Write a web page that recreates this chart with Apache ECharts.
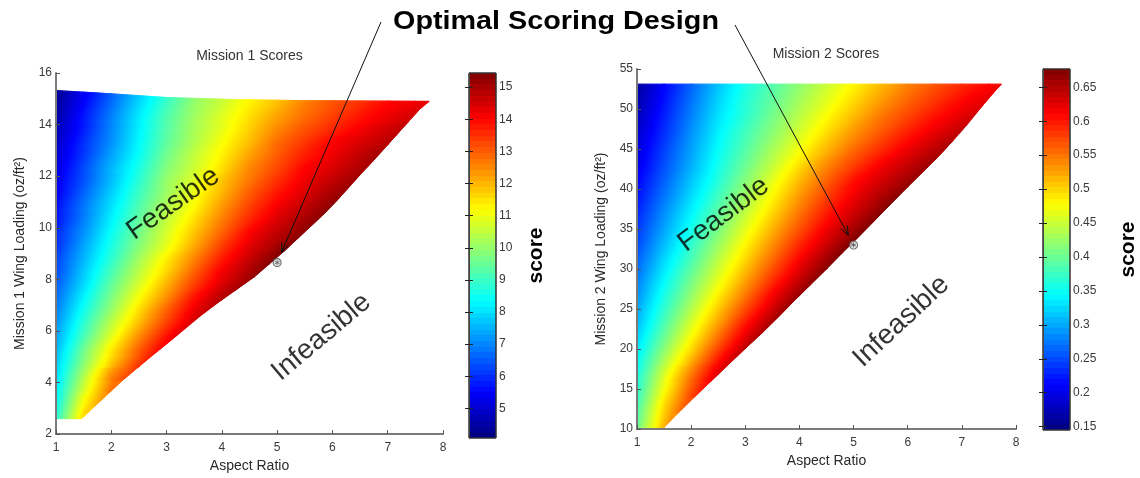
<!DOCTYPE html>
<html>
<head>
<meta charset="utf-8">
<script src="https://cdn.jsdelivr.net/npm/echarts@6/dist/echarts.min.js"></script>
<style>
  html, body { margin: 0; padding: 0; background: #fff; }
  #chart { width: 1140px; height: 478px; }
</style>
</head>
<body>
<div id="chart"></div>
<script>
// ---------- Mission 1 ----------
// Wing-loading bands (oz/ft^2): lower edge of each horizontal band of the feasible region.
const m1Bands = [2.6, 3.1, 3.6, 4.1, 4.6, 5.1, 5.6, 6.1, 6.6, 7.1, 7.6, 8.1, 8.6,
                 9.1, 9.6, 10.1, 10.6, 11.1, 11.6, 12.1, 12.6, 13.1, 13.6, 14.1, 14.6];
// Largest feasible aspect ratio at each band edge (last entry: the top corner).
const m1EdgeAR = [1.46, 1.71, 1.96, 2.21, 2.49, 2.77, 3.06, 3.34, 3.62, 3.93, 4.26, 4.59, 4.86,
                  5.13, 5.38, 5.63, 5.88, 6.10, 6.31, 6.52, 6.74, 6.95, 7.16, 7.37, 7.58, 7.75];
// Upper limit of the design space: [aspect ratio, wing loading].
const m1TopEdge = [[1, 15.32], [1.8, 15.22], [3, 15.05], [4.2, 14.97], [5.4, 14.93], [7.75, 14.9]];
// Score in each band at aspect ratio 1, 1.5, 2, 2.5, ...
const m1Scores = [
  [8.6, 11.5],
  [8.3, 11.1],
  [8.1, 10.6, 12.7],
  [7.9, 10.2, 12.4],
  [7.7, 9.8, 11.7, 13.3],
  [7.5, 9.5, 11.3, 12.9],
  [7.3, 9.1, 10.8, 12.4, 13.8],
  [7.1, 8.8, 10.4, 11.9, 13.3],
  [6.9, 8.5, 10.0, 11.5, 12.9, 14.2],
  [6.7, 8.2, 9.7, 11.1, 12.4, 13.8, 14.8],
  [6.5, 7.9, 9.4, 10.7, 12.0, 13.3, 14.4],
  [6.3, 7.7, 9.1, 10.4, 11.6, 12.9, 14.1, 14.9],
  [6.2, 7.5, 8.8, 10.1, 11.3, 12.5, 13.7, 14.6],
  [6.0, 7.3, 8.6, 9.8, 10.9, 12.1, 13.3, 14.3, 15.0],
  [5.9, 7.1, 8.4, 9.6, 10.7, 11.8, 12.9, 14.0, 14.7],
  [5.7, 6.9, 8.2, 9.4, 10.5, 11.5, 12.6, 13.6, 14.4, 15.0],
  [5.6, 6.8, 8.0, 9.2, 10.3, 11.2, 12.3, 13.3, 14.1, 14.7],
  [5.4, 6.6, 7.8, 9.0, 10.1, 11.0, 12.0, 13.0, 13.8, 14.4, 15.0],
  [5.3, 6.4, 7.6, 8.8, 10.0, 10.8, 11.8, 12.7, 13.5, 14.2, 14.7],
  [5.1, 6.3, 7.5, 8.6, 9.8, 10.6, 11.5, 12.5, 13.2, 14.0, 14.4, 14.9],
  [5.0, 6.1, 7.3, 8.4, 9.6, 10.5, 11.3, 12.2, 13.0, 13.7, 14.2, 14.7],
  [4.8, 6.0, 7.1, 8.3, 9.4, 10.3, 11.1, 11.9, 12.8, 13.4, 14.0, 14.4, 14.8],
  [4.7, 5.8, 7.0, 8.2, 9.3, 10.2, 10.9, 11.7, 12.5, 13.1, 13.6, 14.1, 14.5],
  [4.5, 5.7, 6.9, 8.1, 9.2, 10.1, 10.8, 11.5, 12.2, 12.8, 13.3, 13.8, 14.2],
  [4.4, 5.5, 6.7, 7.9, 9.0, 10.0, 10.6, 11.3, 11.9, 12.6, 13.1, 13.5, 14.0, 14.2]
];
// Score right at the feasibility limit of each band.
const m1EdgeScores = [11.75, 12.3, 12.8, 13.3, 13.65, 14.0, 14.3, 14.5, 14.7, 14.9, 15.1, 15.3, 15.4,
                      15.4, 15.3, 15.3, 15.3, 15.2, 15.1, 15.0, 15.0, 14.85, 14.7, 14.5, 14.3];
const m1Optimum = [5, 8.65];
const m1ScoreRange = [4.08, 15.44];
const m1ScoreTicks = [5, 6, 7, 8, 9, 10, 11, 12, 13, 14, 15];

// ---------- Mission 2 ----------
const m2Bands = [10, 12, 14, 16, 18, 20, 22, 24, 26, 28, 30, 32, 34, 36, 38, 40, 42, 44, 46, 48, 50, 52];
const m2EdgeAR = [1.47, 1.76, 2.06, 2.37, 2.68, 2.99, 3.31, 3.61, 3.90, 4.20, 4.50, 4.79,
                  5.09, 5.38, 5.67, 5.96, 6.26, 6.56, 6.83, 7.09, 7.33, 7.58, 7.73];
const m2TopEdge = [[1, 53.1], [7.73, 53.1]];
const m2Scores = [
  [0.393, 0.511],
  [0.379, 0.495],
  [0.365, 0.473, 0.566],
  [0.353, 0.454, 0.544, 0.628],
  [0.34, 0.428, 0.511, 0.594],
  [0.325, 0.405, 0.483, 0.56, 0.632],
  [0.31, 0.386, 0.459, 0.53, 0.603],
  [0.298, 0.369, 0.437, 0.505, 0.572, 0.634],
  [0.286, 0.354, 0.418, 0.482, 0.545, 0.609, 0.661],
  [0.274, 0.34, 0.401, 0.461, 0.521, 0.582, 0.636],
  [0.262, 0.325, 0.384, 0.443, 0.5, 0.558, 0.614, 0.661],
  [0.25, 0.31, 0.369, 0.425, 0.481, 0.537, 0.591, 0.638],
  [0.24, 0.297, 0.354, 0.408, 0.463, 0.517, 0.569, 0.617, 0.657],
  [0.23, 0.285, 0.34, 0.393, 0.446, 0.498, 0.55, 0.597, 0.636, 0.672],
  [0.22, 0.273, 0.326, 0.378, 0.429, 0.481, 0.532, 0.578, 0.619, 0.652],
  [0.21, 0.262, 0.314, 0.364, 0.414, 0.464, 0.514, 0.56, 0.603, 0.633, 0.66],
  [0.2, 0.252, 0.303, 0.354, 0.4, 0.446, 0.493, 0.539, 0.578, 0.614, 0.64],
  [0.192, 0.244, 0.295, 0.346, 0.388, 0.431, 0.473, 0.515, 0.555, 0.588, 0.619, 0.645],
  [0.184, 0.235, 0.287, 0.338, 0.379, 0.417, 0.456, 0.495, 0.534, 0.566, 0.597, 0.623],
  [0.176, 0.227, 0.279, 0.33, 0.368, 0.406, 0.442, 0.478, 0.514, 0.549, 0.576, 0.603, 0.626],
  [0.168, 0.219, 0.271, 0.322, 0.363, 0.396, 0.43, 0.463, 0.497, 0.53, 0.559, 0.584, 0.609],
  [0.162, 0.213, 0.264, 0.316, 0.358, 0.39, 0.422, 0.453, 0.485, 0.517, 0.547, 0.571, 0.594, 0.614]
];
const m2EdgeScores = [0.533, 0.567, 0.60, 0.631, 0.641, 0.65, 0.657, 0.662, 0.666, 0.671, 0.674,
                      0.677, 0.675, 0.674, 0.672, 0.666, 0.661, 0.655, 0.645, 0.635, 0.625, 0.617];
const m2Optimum = [5, 33];
const m2ScoreRange = [0.145, 0.677];
const m2ScoreTicks = [0.15, 0.2, 0.25, 0.3, 0.35, 0.4, 0.45, 0.5, 0.55, 0.6, 0.65];

// Region labels: [aspect ratio, wing loading, text, angle]
const m1RegionLabels = [[3.12, 10.94, 'Feasible', 35], [5.8, 5.76, 'Infeasible', 40]];
const m2RegionLabels = [[2.6, 36.8, 'Feasible', 37], [5.88, 23.45, 'Infeasible', 43]];

const FONT = '"Liberation Sans", Arial, Helvetica, sans-serif';
const AR_STEP = 0.5;

// MATLAB-style jet colour map
function jet(t) {
  t = Math.min(1, Math.max(0, t));
  const c = v => Math.round(255 * Math.min(1, Math.max(0, v)));
  return 'rgb(' + c(1.5 - Math.abs(4 * t - 3)) + ',' + c(1.5 - Math.abs(4 * t - 2)) + ',' + c(1.5 - Math.abs(4 * t - 1)) + ')';
}
function scoreColor(s, range) { return jet((s - range[0]) / (range[1] - range[0])); }

// Keep the part of a pixel polygon lying between two vertical lines.
function clipPolygonX(poly, xmin, xmax) {
  function clip(pts, inside, cut) {
    const out = [];
    for (let k = 0; k < pts.length; k++) {
      const a = pts[k], b = pts[(k + 1) % pts.length];
      const ia = inside(a), ib = inside(b);
      if (ia) out.push(a);
      if (ia !== ib) out.push(cut(a, b));
    }
    return out;
  }
  const atX = x => (a, b) => [x, a[1] + (b[1] - a[1]) * (x - a[0]) / (b[0] - a[0])];
  let res = clip(poly, p => p[0] >= xmin, atX(xmin));
  if (res.length) res = clip(res, p => p[0] <= xmax, atX(xmax));
  return res;
}

// Each wing-loading band is drawn out to the feasibility limit and shaded with the
// band's scores; the shading is tilted along the local contour direction so that
// neighbouring bands join up smoothly.
function bandRenderer(cfg) {
  const n = cfg.bands.length;
  const topMean = cfg.top.reduce((acc, p) => acc + p[1], 0) / cfg.top.length;
  const upper = i => (i < n - 1 ? cfg.bands[i + 1] : topMean);
  const center = i => (cfg.bands[i] + upper(i)) / 2;
  const samples = cfg.scores.map((row, i) => {
    const s = row.map((v, j) => [1 + AR_STEP * j, v]);
    s.push([(cfg.edges[i] + cfg.edges[i + 1]) / 2, cfg.edgeScores[i]]);
    return s.sort((a, b) => a[0] - b[0]);
  });
  function cross(i, level) {
    if (i < 0 || i >= n) return null;
    const s = samples[i];
    for (let k = 0; k < s.length - 1; k++) {
      const v0 = s[k][1], v1 = s[k + 1][1];
      if (v0 !== v1 && (v0 - level) * (v1 - level) <= 0) {
        return s[k][0] + (level - v0) / (v1 - v0) * (s[k + 1][0] - s[k][0]);
      }
    }
    return null;
  }
  // contour drift: aspect ratio per unit wing loading
  function drift(i, level) {
    const c = cross(i, level), up = cross(i + 1, level), dn = cross(i - 1, level);
    if (up !== null && dn !== null) return (up - dn) / (center(i + 1) - center(i - 1));
    if (up !== null && c !== null) return (up - c) / (center(i + 1) - center(i));
    if (dn !== null && c !== null) return (c - dn) / (center(i) - center(i - 1));
    return null;
  }

  return function (params, api) {
    const i = params.dataIndex;
    const lo = cfg.bands[i];
    const eLo = cfg.edges[i], eHi = cfg.edges[i + 1];
    let outline;
    if (i < n - 1) {
      const hi = cfg.bands[i + 1];
      outline = [[1, lo], [eLo, lo], [eHi, hi], [1, hi]];
    } else {
      outline = [[1, lo], [eLo, lo]].concat(cfg.top.slice().reverse());
    }
    const poly = outline.map(p => api.coord(p));
    const yc = api.coord([1, center(i)])[1];
    const x0 = api.coord([1, lo])[0];
    const xEnd = api.coord([Math.max(eLo, eHi), lo])[0];
    const pxAR = api.size([1, 0])[0];
    const pxWL = api.size([0, 1])[1];
    const off = ar => Math.min(1, Math.max(0, (api.coord([ar, lo])[0] - x0) / (xEnd - x0)));

    const s = samples[i];
    const stops = [];
    for (let k = 0; k < s.length - 1; k++) {
      const a0 = s[k][0], v0 = s[k][1], a1 = s[k + 1][0], v1 = s[k + 1][1];
      for (let m = 0; m < 8; m++) {
        const f = m / 8;
        stops.push({ offset: off(a0 + (a1 - a0) * f), color: scoreColor(v0 + (v1 - v0) * f, cfg.range) });
      }
    }
    const tail = s[s.length - 1];
    stops.push({ offset: off(tail[0]), color: scoreColor(tail[1], cfg.range) });
    stops.push({ offset: 1, color: scoreColor(tail[1], cfg.range) });

    const children = [];
    let lastSlope = 0;
    for (let k = 0; k < s.length - 1; k++) {
      const xa = k === 0 ? -1e4 : api.coord([s[k][0], lo])[0] - 0.4;
      const xb = k === s.length - 2 ? 1e4 : api.coord([s[k + 1][0], lo])[0] + 0.4;
      const piece = clipPolygonX(poly, xa, xb);
      if (piece.length < 3) continue;
      let d = drift(i, (s[k][1] + s[k + 1][1]) / 2);
      if (d === null) d = lastSlope;
      lastSlope = d;
      const m = d * pxAR / pxWL;
      const lam = (xEnd - x0) / (1 + m * m);
      const fill = new echarts.graphic.LinearGradient(x0, yc, x0 + lam, yc + lam * m, stops, true);
      children.push({ type: 'polygon', shape: { points: piece },
                      style: { fill: fill, stroke: fill, lineWidth: 0.8 } });
    }
    return { type: 'group', children: children };
  };
}

// Colour bar drawn on its own value axis (64 discrete colours).
function colorbarRenderer(range) {
  return function (params, api) {
    const p0 = api.coord([0, range[0]]);
    const p1 = api.coord([1, range[1]]);
    const stops = [];
    const n = 64;
    for (let k = 0; k < n; k++) {
      const col = jet((k + 0.5) / n);
      stops.push({ offset: k / n, color: col }, { offset: (k + 1) / n, color: col });
    }
    const fill = new echarts.graphic.LinearGradient(0, p0[1], 0, p1[1], stops, true);
    return {
      type: 'rect',
      shape: { x: p0[0], y: p1[1], width: p1[0] - p0[0], height: p0[1] - p1[1] },
      style: { fill: fill, stroke: '#333', lineWidth: 1 }
    };
  };
}

const axisLabelStyle = { color: '#3a3a3a', fontSize: 12, fontFamily: FONT };
const axisNameStyle = { color: '#2a2a2a', fontSize: 14, fontFamily: FONT };
const axisLineStyle = { show: true, lineStyle: { color: '#7a7a7a', width: 2 } };
const axisTickStyle = { show: true, inside: true, length: 4, lineStyle: { color: '#555', width: 1 } };

function mainX(gridIndex) {
  return {
    type: 'value', gridIndex: gridIndex, min: 1, max: 8, interval: 1, z: 5,
    name: 'Aspect Ratio', nameLocation: 'middle', nameGap: 23, nameTextStyle: axisNameStyle,
    axisLine: axisLineStyle, axisTick: axisTickStyle, splitLine: { show: false },
    axisLabel: Object.assign({ margin: 8 }, axisLabelStyle)
  };
}
function mainY(gridIndex, min, max, interval, name) {
  return {
    type: 'value', gridIndex: gridIndex, min: min, max: max, interval: interval, z: 5,
    name: name, nameLocation: 'middle', nameGap: 29, nameTextStyle: axisNameStyle,
    axisLine: axisLineStyle, axisTick: axisTickStyle, splitLine: { show: false },
    axisLabel: Object.assign({ margin: 4 }, axisLabelStyle)
  };
}
function barX(gridIndex) {
  return { type: 'value', gridIndex: gridIndex, min: 0, max: 1, show: false };
}
function barY(gridIndex, range, ticks, position, withLabels, nameGap) {
  const ax = {
    type: 'value', gridIndex: gridIndex, min: range[0], max: range[1], position: position, z: 5,
    axisLine: { show: true, lineStyle: { color: '#444', width: 1 } },
    axisTick: { show: true, inside: true, length: 4, customValues: ticks, lineStyle: { color: '#222' } },
    splitLine: { show: false },
    axisLabel: withLabels
      ? Object.assign({ show: true, margin: 3, customValues: ticks, formatter: v => String(+(+v).toFixed(3)) }, axisLabelStyle)
      : { show: false }
  };
  if (withLabels) {
    Object.assign(ax, {
      name: 'score', nameLocation: 'middle', nameGap: nameGap,
      nameTextStyle: { color: '#000', fontSize: 21, fontWeight: 'bold', fontFamily: FONT }
    });
  }
  return ax;
}

function regionLabelSeries(xi, yi, labels) {
  return {
    type: 'scatter', xAxisIndex: xi, yAxisIndex: yi, symbolSize: 0, silent: true, z: 10,
    data: labels.map(l => ({
      value: [l[0], l[1]], name: l[2],
      label: { show: true, position: 'inside', formatter: '{b}', rotate: l[3],
               fontSize: 28, color: '#000', fontFamily: FONT }
    }))
  };
}
function optimumSeries(xi, yi, pt) {
  return [
    { type: 'scatter', xAxisIndex: xi, yAxisIndex: yi, data: [pt], symbol: 'circle', symbolSize: 8, z: 11,
      itemStyle: { color: 'rgba(230,230,230,0.85)', borderColor: '#555', borderWidth: 1.2 }, silent: true },
    { type: 'scatter', xAxisIndex: xi, yAxisIndex: yi, data: [pt], z: 12, silent: true,
      symbol: 'path://M0,-1L0,1M-0.87,-0.5L0.87,0.5M-0.87,0.5L0.87,-0.5', symbolSize: 5,
      itemStyle: { color: 'none', borderColor: '#555', borderWidth: 1 } }
  ];
}

const chart = echarts.init(document.getElementById('chart'), null, { renderer: 'canvas' });

chart.setOption({
  animation: false,
  backgroundColor: '#fff',
  grid: [
    { left: 56, top: 73, width: 387, height: 365 },
    { left: 469, top: 73, width: 27, height: 365 },
    { left: 637, top: 69, width: 379, height: 360 },
    { left: 1043, top: 69, width: 27, height: 361 }
  ],
  xAxis: [mainX(0), barX(1), mainX(2), barX(3)],
  yAxis: [
    mainY(0, 2, 16, 2, 'Mission 1 Wing Loading (oz/ft\u00B2)'),
    barY(1, m1ScoreRange, m1ScoreTicks, 'right', true, 30),
    barY(1, m1ScoreRange, m1ScoreTicks, 'left', false),
    mainY(2, 10, 55, 5, 'Mission 2 Wing Loading (oz/ft\u00B2)'),
    barY(3, m2ScoreRange, m2ScoreTicks, 'right', true, 48),
    barY(3, m2ScoreRange, m2ScoreTicks, 'left', false)
  ],
  series: [
    { type: 'custom', xAxisIndex: 0, yAxisIndex: 0, silent: true, z: 2,
      renderItem: bandRenderer({ bands: m1Bands, edges: m1EdgeAR, top: m1TopEdge, scores: m1Scores,
                                 edgeScores: m1EdgeScores, range: m1ScoreRange }),
      data: m1Bands.map(lo => [1, lo]) },
    { type: 'custom', xAxisIndex: 2, yAxisIndex: 3, silent: true, z: 2,
      renderItem: bandRenderer({ bands: m2Bands, edges: m2EdgeAR, top: m2TopEdge, scores: m2Scores,
                                 edgeScores: m2EdgeScores, range: m2ScoreRange }),
      data: m2Bands.map(lo => [1, lo]) },
    { type: 'custom', xAxisIndex: 1, yAxisIndex: 1, silent: true, z: 2,
      renderItem: colorbarRenderer(m1ScoreRange), data: [[0, m1ScoreRange[0]]] },
    { type: 'custom', xAxisIndex: 3, yAxisIndex: 4, silent: true, z: 2,
      renderItem: colorbarRenderer(m2ScoreRange), data: [[0, m2ScoreRange[0]]] },
    regionLabelSeries(0, 0, m1RegionLabels),
    regionLabelSeries(2, 3, m2RegionLabels)
  ].concat(optimumSeries(0, 0, m1Optimum), optimumSeries(2, 3, m2Optimum))
});

// Titles and the two annotation arrows pointing at the optimal designs.
const titleY = 22;
const titleCx = 556;
const p1 = chart.convertToPixel({ gridIndex: 0 }, m1Optimum);
const p2 = chart.convertToPixel({ gridIndex: 2 }, m2Optimum);

function arrow(start, target, id) {
  const dx = start[0] - target[0], dy = start[1] - target[1];
  const len = Math.sqrt(dx * dx + dy * dy);
  const ux = dx / len, uy = dy / len;
  const tip = [target[0] + ux * 11, target[1] + uy * 11];
  const head = 10, spread = 0.38;
  const rot = a => [ux * Math.cos(a) - uy * Math.sin(a), ux * Math.sin(a) + uy * Math.cos(a)];
  const r1 = rot(spread), r2 = rot(-spread);
  return [
    { type: 'line', id: id + 'shaft', silent: true, z: 20,
      shape: { x1: start[0], y1: start[1], x2: tip[0], y2: tip[1] },
      style: { stroke: '#111', lineWidth: 1 } },
    { type: 'polyline', id: id + 'head', silent: true, z: 20,
      shape: { points: [[tip[0] + r1[0] * head, tip[1] + r1[1] * head], tip, [tip[0] + r2[0] * head, tip[1] + r2[1] * head]] },
      style: { stroke: '#111', lineWidth: 1, fill: null } }
  ];
}

chart.setOption({
  graphic: [
    { type: 'text', id: 'mainTitle', x: titleCx, y: titleY, scaleX: 1.15, silent: true, z: 20,
      style: { text: 'Optimal Scoring Design', font: 'bold 25px ' + FONT, fill: '#000',
               align: 'center', verticalAlign: 'middle' } },
    { type: 'text', id: 't1', x: 249.5, y: 56, silent: true, z: 20,
      style: { text: 'Mission 1 Scores', font: '14px ' + FONT, fill: '#333',
               align: 'center', verticalAlign: 'middle' } },
    { type: 'text', id: 't2', x: 826, y: 54, silent: true, z: 20,
      style: { text: 'Mission 2 Scores', font: '14px ' + FONT, fill: '#333',
               align: 'center', verticalAlign: 'middle' } }
  ].concat(
    arrow([titleCx - 175, titleY], p1, 'a1'),
    arrow([titleCx + 179, titleY + 3], p2, 'a2')
  )
});
</script>
</body>
</html>
